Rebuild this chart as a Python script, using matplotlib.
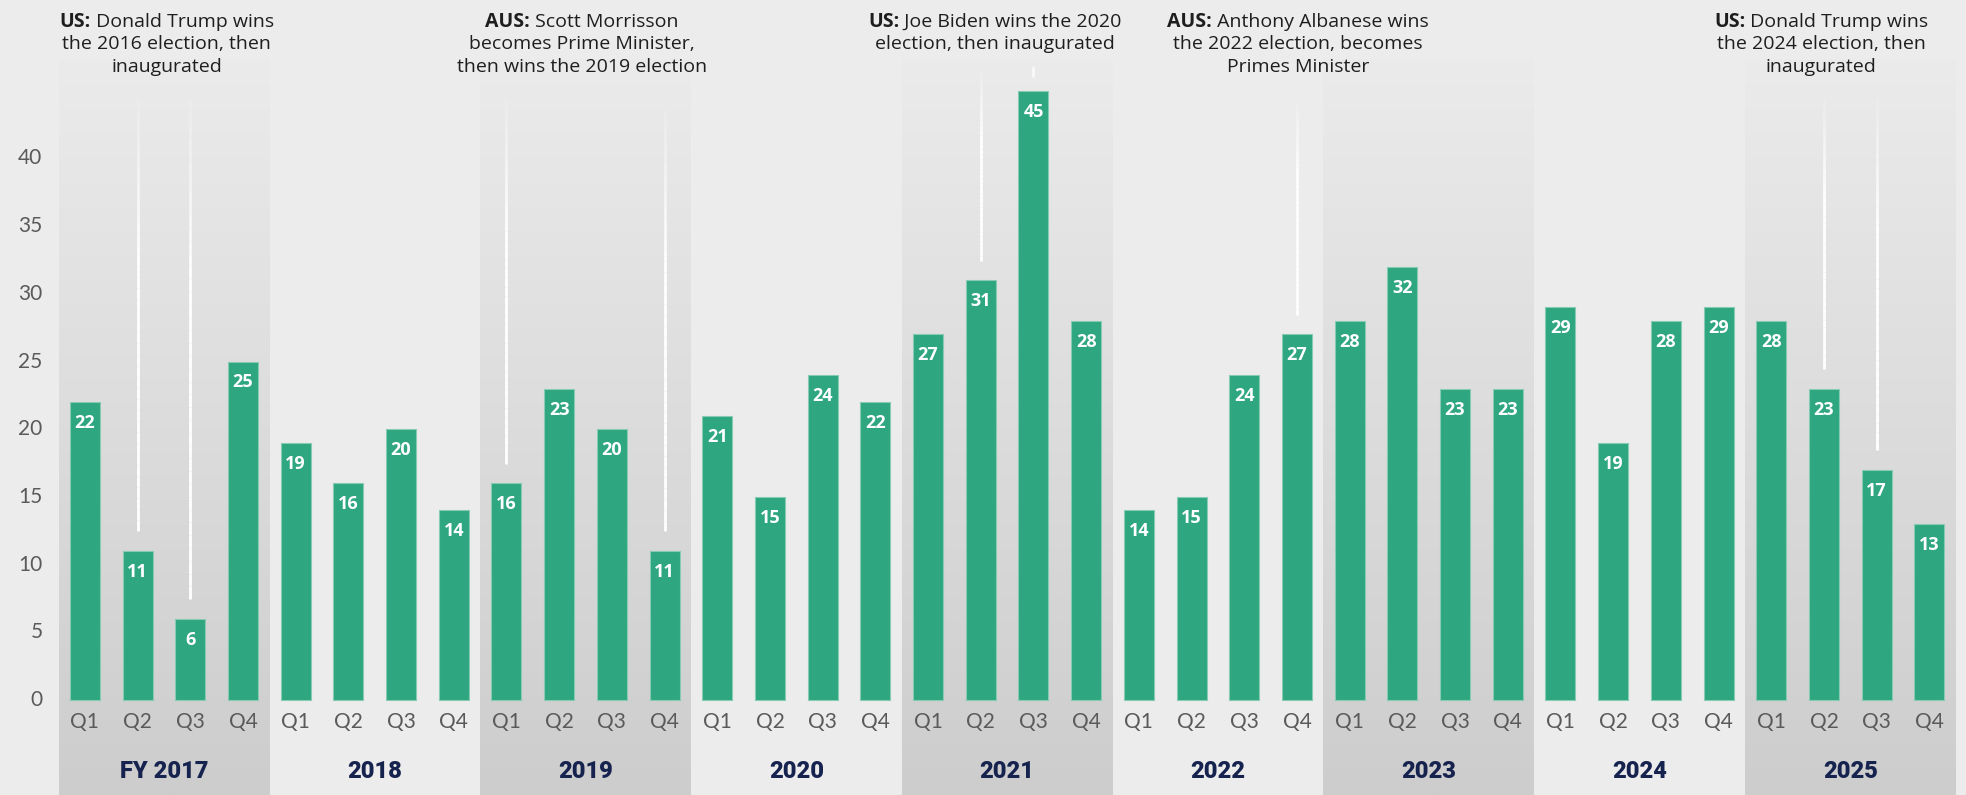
import numpy as np
import matplotlib
matplotlib.use("Agg")
import matplotlib.pyplot as plt
from matplotlib.collections import LineCollection
from matplotlib.transforms import offset_copy

# quarterly counts, one list per financial year
years = ["FY 2017", "2018", "2019", "2020", "2021", "2022", "2023", "2024", "2025"]
quarters = ["Q1", "Q2", "Q3", "Q4"]
counts = {
    "FY 2017": [22, 11, 6, 25],
    "2018": [19, 16, 20, 14],
    "2019": [16, 23, 20, 11],
    "2020": [21, 15, 24, 22],
    "2021": [27, 31, 45, 28],
    "2022": [14, 15, 24, 27],
    "2023": [28, 32, 23, 23],
    "2024": [29, 19, 28, 29],
    "2025": [28, 23, 17, 13],
}
yticks = [0, 5, 10, 15, 20, 25, 30, 35, 40]

# election notes: (bold prefix, first line rest, other lines, text centre, marked quarters)
notes = [
    ("US:", "Donald Trump wins", ["the 2016 election, then", "inaugurated"], 1.55, [1, 2]),
    ("AUS:", "Scott Morrisson", ["becomes Prime Minister,", "then wins the 2019 election"], 9.43, [8, 11]),
    ("US:", "Joe Biden wins the 2020", ["election, then inaugurated"], 17.27, [17, 18]),
    ("AUS:", "Anthony Albanese wins", ["the 2022 election, becomes", "Primes Minister"], 23.02, [23]),
    ("US:", "Donald Trump wins", ["the 2024 election, then", "inaugurated"], 32.95, [33, 34]),
]
# top end of each pointer line (data units)
line_tops = {1: 44.3, 2: 44.3, 8: 44.3, 11: 43.6, 17: 46.4, 18: 46.9, 23: 44.2, 33: 44.4, 34: 44.4}

values = [v for y in years for v in counts[y]]
x = np.arange(len(values))

BG = "#ececec"
GREEN = "#2ea680"
NAVY = "#17234f"
GREY = "#5a5a5a"
FONT = "Open Sans"

W, H = 1966, 795
fig = plt.figure(figsize=(W / 100, H / 100), dpi=100, facecolor=BG)
px_per_unit = 13.54
y0_px = 700
ymin = -(H - y0_px) / px_per_unit
ymax = y0_px / px_per_unit
ax = fig.add_axes([58.5 / W, 0, 36 * 52.7 / W, 1])
ax.set_facecolor(BG)
ax.set_xlim(-0.5, len(values) - 0.5)
ax.set_ylim(ymin, ymax)

# shaded bands on alternate years
band_top = 47.3
grad = np.linspace(0, 1, 256).reshape(-1, 1)
top_c = np.array([0xeb, 0xeb, 0xeb]) / 255
bot_c = np.array([0xcd, 0xcd, 0xcd]) / 255
img = top_c * (1 - grad[..., None]) + bot_c * grad[..., None]
img = img.reshape(256, 1, 3)
for i in range(0, len(years), 2):
    ax.imshow(img, extent=(4 * i - 0.5, 4 * i + 3.5, ymin, band_top),
              aspect="auto", origin="upper", zorder=0, interpolation="bilinear")

ax.bar(x, values, width=0.57, color=GREEN, edgecolor="#86cbb2", linewidth=0.8, zorder=3)
for xi, v in zip(x, values):
    ax.text(xi, v - 1.55, str(v), ha="center", va="center", color="white",
            fontsize=13, fontweight="bold", family=FONT, zorder=4)

# quarter and year labels
for xi in x:
    ax.text(xi, -1.6, quarters[xi % 4], ha="center", va="center", color=GREY,
            fontsize=15, family="Lato")
for i, yr in enumerate(years):
    ax.text(4 * i + 1.5, -5.3, yr, ha="center", va="center", color=NAVY,
            fontsize=17, fontweight="black", family="Roboto")

# y axis labels
for t in yticks:
    ax.text(-0.5, t, str(t), transform=offset_copy(ax.transData, fig, x=-16, units="dots"),
            ha="right", va="center", color=GREY, fontsize=15, family="Lato")

ax.set_xticks([])
ax.set_yticks([])
for s in ax.spines.values():
    s.set_visible(False)

# pointer lines, fading out towards the top
for xi, top in line_tops.items():
    gap = 1.0 if values[xi] + 1.45 > top - 1 else 1.45
    bottom = values[xi] + gap
    ys = np.linspace(top, bottom, 40)
    segs = [[(xi, ys[k]), (xi, ys[k + 1])] for k in range(len(ys) - 1)]
    alphas = np.clip(np.linspace(0.15, 2.5, len(segs)), 0, 1)
    cols = [(1, 1, 1, a) for a in alphas]
    ax.add_collection(LineCollection(segs, colors=cols, linewidths=2.0, zorder=2))

# annotation text with bold prefix
renderer = fig.canvas.get_renderer()
ann_size = 14
base = [49.7, 48.05, 46.4]


def text_width(s, **kw):
    t = ax.text(0, 0, s, fontsize=ann_size, family=FONT, **kw)
    w = t.get_window_extent(renderer).width
    t.remove()
    return w


for bold, rest, others, cx, _ in notes:
    wb = text_width(bold, fontweight="bold")
    wr = text_width(" " + rest)
    left = -(wb + wr) / 2
    ax.text(cx, base[0], bold, transform=offset_copy(ax.transData, fig, x=left, units="dots"),
            ha="left", va="baseline", fontsize=ann_size, fontweight="bold",
            family=FONT, color="#1e1e1e", zorder=5)
    ax.text(cx, base[0], " " + rest, transform=offset_copy(ax.transData, fig, x=left + wb, units="dots"),
            ha="left", va="baseline", fontsize=ann_size, family=FONT, color="#1e1e1e", zorder=5)
    for k, line in enumerate(others):
        ax.text(cx, base[k + 1], line, ha="center", va="baseline", fontsize=ann_size,
                family=FONT, color="#1e1e1e", zorder=5)

fig.savefig("out.png", dpi=100, facecolor=BG)
